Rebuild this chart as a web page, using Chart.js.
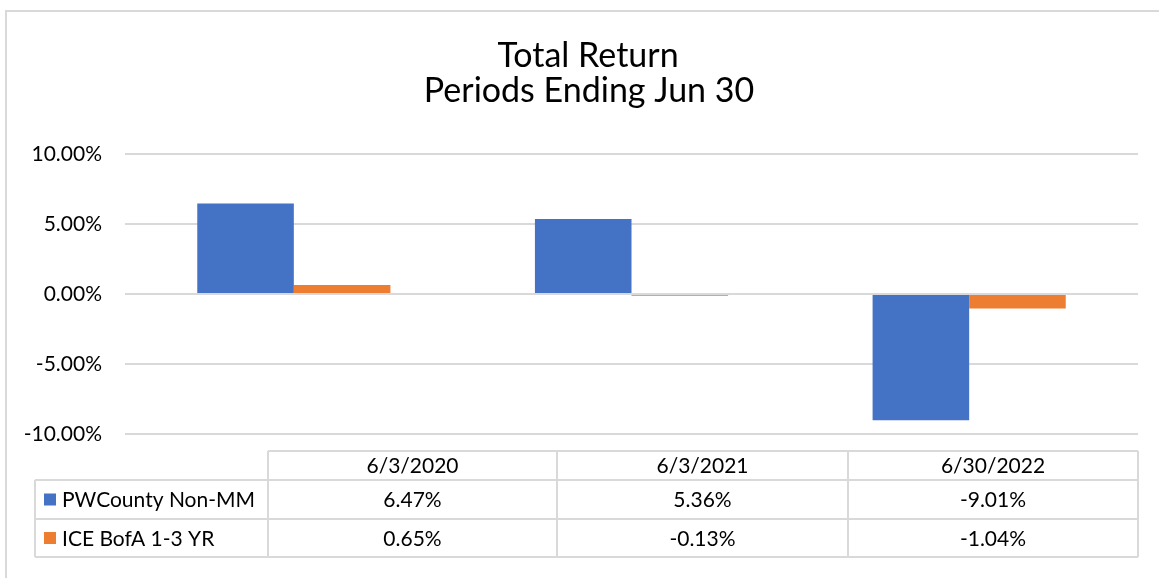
<!DOCTYPE html>
<html>
<head>
<meta charset="utf-8">
<script src="https://cdn.jsdelivr.net/npm/chart.js@4/dist/chart.umd.min.js"></script>
<style>
  body { margin: 0; background: #fff; }
  #wrap { width: 1159px; height: 578px; }
</style>
</head>
<body>
<div id="wrap"><canvas id="myChart" width="1159" height="578"></canvas></div>
<script>
// data
const categories = ['6/3/2020', '6/3/2021', '6/30/2022'];
const pwCounty = [6.47, 5.36, -9.01];
const iceBofa = [0.65, -0.13, -1.04];
const seriesNames = ['PWCounty Non-MM', 'ICE BofA 1-3 YR'];
const titleLines = ['Total Return', 'Periods Ending Jun 30'];

const blue = '#4472C4';
const orange = '#ED7D31';
const lineGray = '#d9d9d9';
const font = 'Lato';

const pct = v => v.toFixed(2) + '%';

// title, outer frame and the data table under the plot
const extras = {
    id: 'extras',
    afterDraw(chart) {
        const c = chart.ctx;
        c.save();

        // frame
        c.strokeStyle = lineGray;
        c.lineWidth = 2;
        c.beginPath();
        c.moveTo(6, 578);
        c.lineTo(6, 11);
        c.lineTo(1159, 11);
        c.stroke();

        // title
        c.fillStyle = '#000';
        c.textAlign = 'center';
        c.textBaseline = 'alphabetic';
        c.font = '34px ' + font;
        c.fillText(titleLines[0], 588, 67);
        c.fillText(titleLines[1], 589, 102);

        // table
        const cols = [268, 557, 848, 1138];
        const rows = [451, 480, 519, 557];
        const left = 35;
        c.strokeStyle = lineGray;
        c.lineWidth = 2;
        c.beginPath();
        c.moveTo(cols[0], rows[0]); c.lineTo(cols[3], rows[0]);
        for (let r = 1; r < rows.length; r++) {
            c.moveTo(left, rows[r]); c.lineTo(cols[3], rows[r]);
        }
        c.moveTo(left, rows[1]); c.lineTo(left, rows[3]);
        cols.forEach(x => { c.moveTo(x, rows[0]); c.lineTo(x, rows[3]); });
        c.stroke();

        c.font = '21px ' + font;
        c.fillStyle = '#000';
        c.textBaseline = 'middle';
        c.textAlign = 'center';
        categories.forEach((cat, i) => {
            const cx = (cols[i] + cols[i + 1]) / 2;
            c.fillText(cat, cx, (rows[0] + rows[1]) / 2 + 1);
            c.fillText(pct(pwCounty[i]), cx, (rows[1] + rows[2]) / 2 + 1);
            c.fillText(pct(iceBofa[i]), cx, (rows[2] + rows[3]) / 2 + 1);
        });

        const colors = [blue, orange];
        seriesNames.forEach((name, i) => {
            const cy = (rows[i + 1] + rows[i + 2]) / 2;
            c.fillStyle = colors[i];
            c.fillRect(44, cy - 6, 12, 12);
            c.fillStyle = '#000';
            c.textAlign = 'left';
            c.fillText(name, 62, cy + 1);
        });

        c.restore();
    }
};

const ctx = document.getElementById('myChart').getContext('2d');
const myChart = new Chart(ctx, {
    type: 'bar',
    data: {
        labels: categories,
        datasets: [{
            label: seriesNames[0],
            data: pwCounty,
            backgroundColor: blue,
            barPercentage: 1,
            categoryPercentage: 0.572
        }, {
            label: seriesNames[1],
            data: iceBofa,
            backgroundColor: orange,
            barPercentage: 1,
            categoryPercentage: 0.572
        }]
    },
    options: {
        responsive: false,
        animation: false,
        layout: {
            padding: { top: 154, bottom: 144, left: 0, right: 21 }
        },
        plugins: {
            legend: { display: false },
            title: { display: false },
            tooltip: { enabled: false }
        },
        scales: {
            x: { display: false },
            y: {
                min: -10,
                max: 10,
                afterFit(scale) { scale.width = 125; },
                border: { display: false },
                grid: { color: lineGray, lineWidth: 2, drawTicks: false },
                ticks: {
                    stepSize: 5,
                    padding: 23,
                    color: '#000',
                    font: { family: font, size: 21 },
                    callback: v => pct(v)
                }
            }
        }
    },
    plugins: [extras]
});
</script>
</body>
</html>
